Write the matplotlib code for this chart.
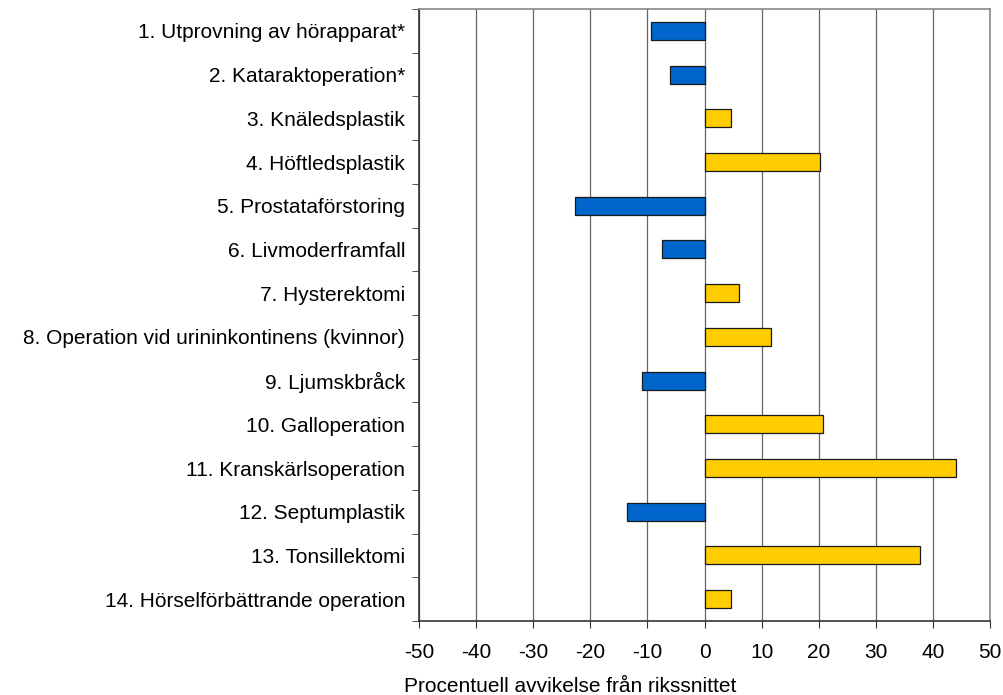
"""
Procentuell avvikelse från rikssnittet per operation (liggande stapeldiagram).
"""

import matplotlib
matplotlib.use('Agg')
import matplotlib.pyplot as plt
import numpy as np

plt.rcParams['font.family'] = ['Liberation Sans', 'DejaVu Sans']

# data
labels = ['1. Utprovning av hörapparat*', '2. Kataraktoperation*',
          '3. Knäledsplastik', '4. Höftledsplastik', '5. Prostataförstoring',
          '6. Livmoderframfall', '7. Hysterektomi',
          '8. Operation vid urininkontinens (kvinnor)', '9. Ljumskbråck',
          '10. Galloperation', '11. Kranskärlsoperation', '12. Septumplastik',
          '13. Tonsillektomi', '14. Hörselförbättrande operation']
values = [-9.3, -6.1, 4.6, 20.3, -22.6, -7.5, 6.0, 11.6, -11.0, 20.7, 44.1,
          -13.5, 37.8, 4.6]
xticks = list(range(-50, 51, 10))

blue = '#0066CC'
yellow = '#FFCC00'
fs = 15

fig = plt.figure(figsize=(10.04, 6.95), dpi=100)
ax = fig.add_axes([419/1004, 1 - 621/695, (990-419)/1004, (621-9)/695])

y = np.arange(len(labels))
colors = [blue if v < 0 else yellow for v in values]
ax.barh(y, values, height=0.41, color=colors, edgecolor='#1a1a1a',
        linewidth=0.9, zorder=3)

ax.set_xlim(-50, 50)
ax.set_ylim(len(labels) - 0.5, -0.5)
ax.set_xticks(xticks)
ax.set_xticklabels([str(t) for t in xticks], fontsize=fs)
ax.grid(axis='x', color='#666666', linewidth=0.9, zorder=0)

# category labels between the tick marks
ax.set_yticks(y)
ax.set_yticklabels(labels, fontsize=fs)
ax.tick_params(axis='y', length=0, pad=10)
ax.set_yticks(np.arange(len(labels) + 1) - 0.5, minor=True)
ax.tick_params(axis='y', which='minor', length=5, direction='out',
               color='#333333')
ax.tick_params(axis='x', length=5, direction='out', pad=11, color='#333333')

for s in ['top', 'right']:
    ax.spines[s].set_color('#888888')
    ax.spines[s].set_linewidth(1.2)
for s in ['left', 'bottom']:
    ax.spines[s].set_color('#333333')
    ax.spines[s].set_linewidth(1.2)

fig.text(570/1004, 1 - 686/695, 'Procentuell avvikelse från rikssnittet',
         fontsize=fs, ha='center', va='center')

fig.savefig('out.png', dpi=100)
